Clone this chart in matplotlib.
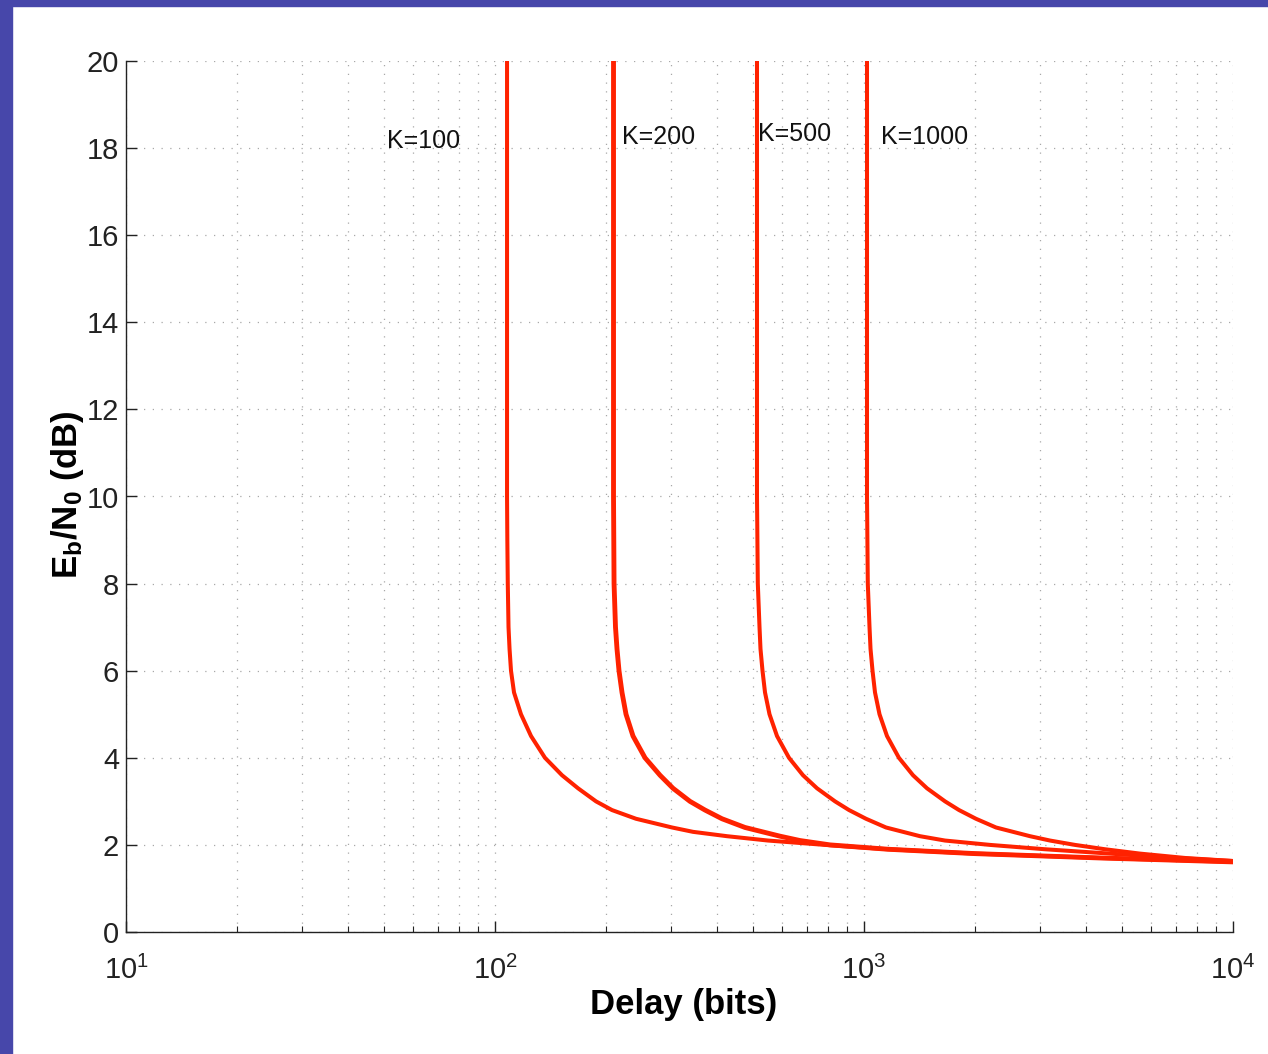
import matplotlib
matplotlib.use('Agg')
import matplotlib.pyplot as plt
from matplotlib.patches import Rectangle
from matplotlib.ticker import LogLocator, NullFormatter

plt.rcParams['font.family'] = ['Liberation Sans', 'DejaVu Sans']
plt.rcParams['mathtext.fontset'] = 'custom'
plt.rcParams['mathtext.rm'] = 'Liberation Sans'
plt.rcParams['mathtext.it'] = 'Liberation Sans:italic'
plt.rcParams['mathtext.bf'] = 'Liberation Sans:bold'
plt.rcParams['mathtext.default'] = 'regular'

# values: delay (bits) vs Eb/N0 (dB)
k100_delay = [107.8, 107.8, 108.0, 108.3, 108.8, 109.5, 110.5, 112.6, 117.6, 125.2,
              136.6, 151.9, 167.9, 187.8, 207.5, 241.1, 301.8, 344.0, 425.3, 549.4,
              784.2, 1161.5, 1998.5, 4361, 10000]
k100_ebn0 = [20, 10, 9, 8, 7, 6.5, 6, 5.5, 5, 4.5,
             4, 3.6, 3.3, 3.0, 2.8, 2.6, 2.4, 2.3, 2.2, 2.1,
             2.0, 1.9, 1.8, 1.7, 1.61]

k200_delay = [209.5, 209.5, 210.2, 212.1, 214.1, 216.8, 220.9, 226.5, 236.6, 255.0,
              280.0, 303.7, 337.6, 370.8, 412.3, 476.0, 592.2, 670.9, 809.1, 1161.5,
              1998.5, 4361, 10000]
k200_ebn0 = [20, 10, 8, 7, 6.5, 6, 5.5, 5, 4.5, 4,
             3.6, 3.3, 3.0, 2.8, 2.6, 2.4, 2.2, 2.1, 2.0, 1.9,
             1.8, 1.7, 1.61]

k500_delay = [512.9, 512.9, 515.5, 521.0, 524.2, 530.8, 539.2, 554.5, 581.1, 626.2,
              683.3, 745.9, 834.6, 910.8, 1012.6, 1147.1, 1418.2, 1657.9, 2195.0, 3094.6,
              4641.6, 6964.6, 10000]
k500_ebn0 = [20, 10, 8, 7, 6.5, 6, 5.5, 5, 4.5, 4,
             3.6, 3.3, 3.0, 2.8, 2.6, 2.4, 2.2, 2.1, 2.0, 1.9,
             1.8, 1.7, 1.63]

k1000_delay = [1018.9, 1018.9, 1024.0, 1035.0, 1041.5, 1054.6, 1071.1, 1101.6, 1154.3, 1243.5,
               1357.6, 1481.5, 1657.9, 1809.3, 2011.1, 2278.7, 2817.6, 3192, 3730.2, 4499.0,
               5597.6, 7412.5, 10000]
k1000_ebn0 = [20, 10, 8, 7, 6.5, 6, 5.5, 5, 4.5, 4,
              3.6, 3.3, 3.0, 2.8, 2.6, 2.4, 2.2, 2.1, 2.0, 1.9,
              1.8, 1.7, 1.63]

labels = ['K=100', 'K=200', 'K=500', 'K=1000']
label_x = [64.2, 278, 650, 1463]
label_y = [18.16, 18.25, 18.32, 18.25]

red = '#ff2200'
grid_style = dict(linestyle=(0, (1, 6)), color='#a8a8a8', linewidth=0.9)

fig = plt.figure(figsize=(12.68, 10.54), dpi=100)
fig.patch.set_facecolor('white')
ax = fig.add_axes([126/1268, 1 - 932/1054, 1107/1268, 871/1054])

ax.plot(k100_delay, k100_ebn0, color=red, lw=2.9, solid_joinstyle='round')
ax.plot(k200_delay, k200_ebn0, color=red, lw=3.5, solid_joinstyle='round')
ax.plot(k500_delay, k500_ebn0, color=red, lw=2.9, solid_joinstyle='round')
ax.plot(k1000_delay, k1000_ebn0, color=red, lw=2.9, solid_joinstyle='round')

for s, x, y in zip(labels, label_x, label_y):
    ax.text(x, y, s, fontsize=18, ha='center', va='center', color='#111111')

ax.set_xscale('log')
ax.set_xlim(10, 1e4)
ax.set_ylim(0, 20)
ax.set_yticks(range(0, 21, 2))
ax.xaxis.set_minor_locator(LogLocator(base=10, subs=range(2, 10)))
ax.xaxis.set_minor_formatter(NullFormatter())

ax.grid(True, which='major', axis='both', **grid_style)
ax.grid(True, which='minor', axis='x', **grid_style)
ax.set_axisbelow(True)

for side in ['top', 'right']:
    ax.spines[side].set_visible(False)
for side in ['left', 'bottom']:
    ax.spines[side].set_color('#222222')
    ax.spines[side].set_linewidth(1.0)

ax.tick_params(which='major', direction='in', length=8, width=1, labelsize=21,
               colors='#222222', top=False, right=False)
ax.tick_params(axis='x', which='major', pad=17)
ax.tick_params(axis='y', which='major', pad=5)
ax.tick_params(which='minor', direction='in', length=4, width=0.8, colors='#222222',
               top=False, right=False)

ax.set_xlabel('Delay (bits)', fontsize=25, fontweight='bold')
ax.xaxis.set_label_coords(0.504, -0.064)
ax.xaxis.label.set_va('top')
ax.set_ylabel(r'$\mathbf{E_b/N_0}$ (dB)', fontsize=25, fontweight='bold')
ax.yaxis.set_label_coords(-0.036, 0.502)

# blue slide border on the left and top
fig.add_artist(Rectangle((0, 0), 12/1268, 1, transform=fig.transFigure,
                         color='#4747aa', zorder=10))
fig.add_artist(Rectangle((0, 1 - 6/1054), 1, 6/1054, transform=fig.transFigure,
                         color='#4747aa', zorder=10))

fig.savefig('out.png', dpi=100)
